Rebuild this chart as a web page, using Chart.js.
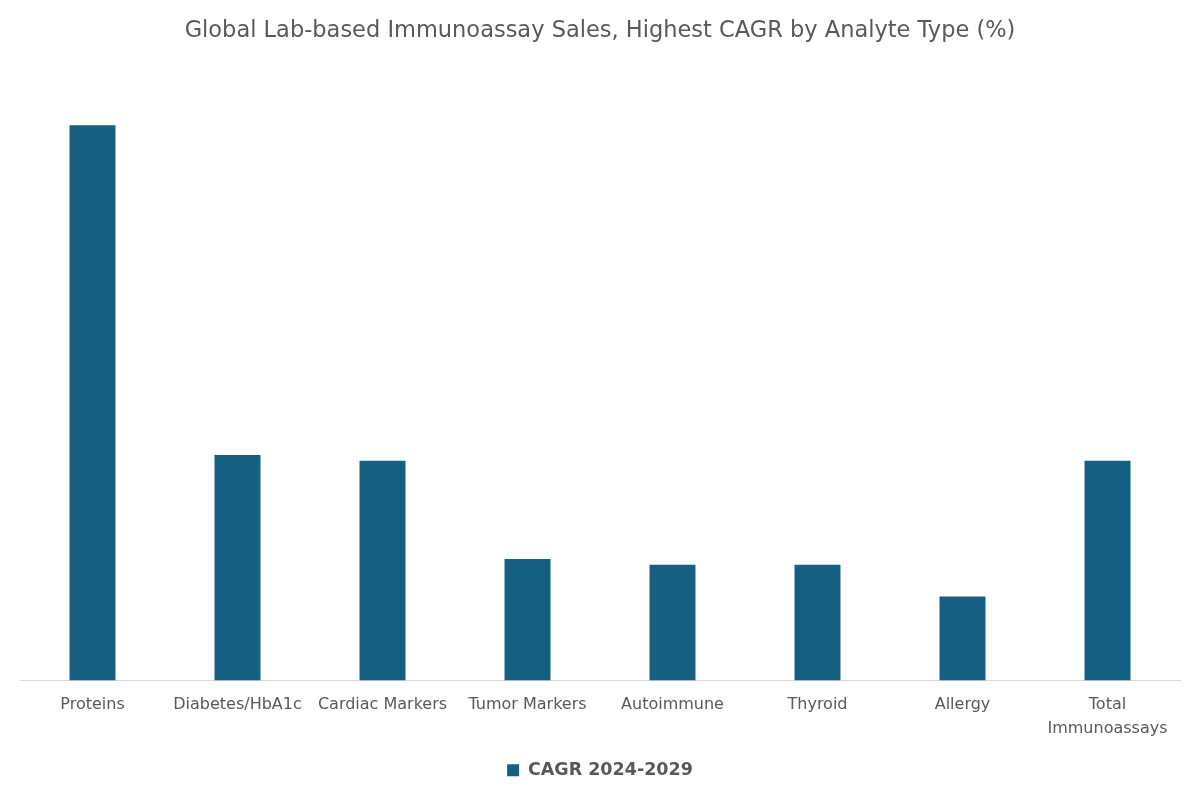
<!DOCTYPE html>
<html>
<head>
<meta charset="utf-8">
<script src="https://cdn.jsdelivr.net/npm/chart.js@4"></script>
<style>
  html, body { margin: 0; padding: 0; background: #fff; }
  #wrap { width: 1200px; height: 800px; }
</style>
</head>
<body>
<div id="wrap"><canvas id="chart" width="1200" height="800"></canvas></div>
<script>
// ---------------- Data ----------------
const CATEGORIES = [
  'Proteins', 'Diabetes/HbA1c', 'Cardiac Markers', 'Tumor Markers',
  'Autoimmune', 'Thyroid', 'Allergy', ['Total', 'Immunoassays'],
];
const CAGR_VALUES = [9.6, 3.9, 3.8, 2.1, 2.0, 2.0, 1.45, 3.8];
const SERIES_LABEL = 'CAGR 2024-2029';
const TITLE = 'Global Lab-based Immunoassay Sales, Highest CAGR by Analyte Type (%)';

const BAR = '#156082';
const TEXT = '#595959';
const FONT = '"DejaVu Sans", "Noto Sans", sans-serif';

new Chart(document.getElementById('chart'), {
  type: 'bar',
  data: {
    labels: CATEGORIES,
    datasets: [{
      label: SERIES_LABEL,
      data: CAGR_VALUES,
      backgroundColor: BAR,
      borderWidth: 0,
      barPercentage: 0.317,
      categoryPercentage: 1,
    }],
  },
  options: {
    responsive: false,
    animation: false,
    layout: { padding: { left: 20, right: 20, top: 0, bottom: 11 } },
    plugins: {
      title: {
        display: true,
        text: TITLE,
        color: TEXT,
        font: { family: FONT, size: 22.5, weight: 'normal' },
        padding: { top: 18, bottom: 57 },
      },
      legend: {
        position: 'bottom',
        labels: {
          color: TEXT,
          font: { family: FONT, size: 17.5, weight: 'bold' },
          boxWidth: 12,
          boxHeight: 12,
          padding: 9,
        },
      },
      tooltip: { enabled: false },
    },
    scales: {
      x: {
        grid: { display: false, drawTicks: false },
        border: { display: true, color: '#d9d9d9', width: 1 },
        ticks: {
          color: TEXT,
          font: { family: FONT, size: 16, lineHeight: 1.5 },
          padding: 12,
          maxRotation: 0,
          autoSkip: false,
        },
      },
      y: {
        display: false,
        min: 0,
        max: 10,
      },
    },
  },
});
</script>
</body>
</html>
